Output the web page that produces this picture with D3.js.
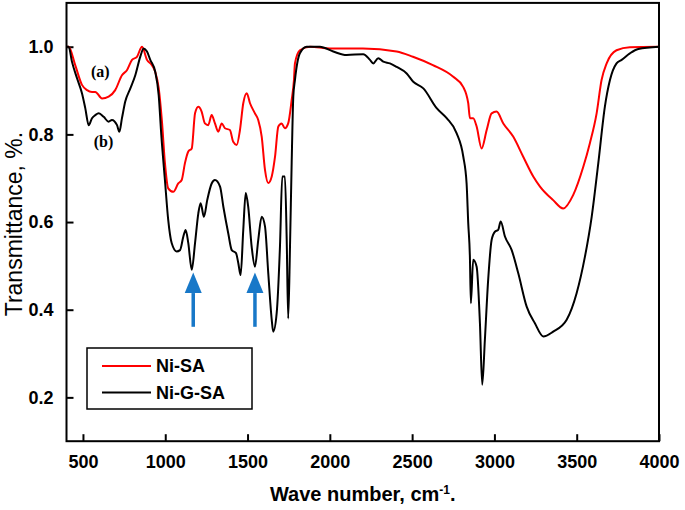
<!DOCTYPE html>
<html>
<head>
<meta charset="utf-8">
<script src="https://cdn.jsdelivr.net/npm/d3@7"></script>
<style>
  body { margin: 0; background: #fff; }
  svg { display: block; }
</style>
</head>
<body>
<div id="chart"></div>
<script>
// FTIR spectra, transmittance vs wave number
const xTicks = [500, 1000, 1500, 2000, 2500, 3000, 3500, 4000];
const yTicks = [0.2, 0.4, 0.6, 0.8, 1.0];
const seriesNames = ['Ni-SA', 'Ni-G-SA'];
const seriesColors = ['#ff0000', '#000000'];

// (a) Ni-SA : [wave number, transmittance]
const niSA = [
  [400, 1.0], [413, 1.0], [453, 0.958], [494, 0.913], [525, 0.901], [555, 0.897],
  [575, 0.897], [616, 0.882], [656, 0.886], [696, 0.901], [737, 0.935], [768, 0.947],
  [798, 0.970], [828, 0.977], [859, 1.0], [889, 0.970], [919, 0.958], [939, 0.943],
  [960, 0.906], [980, 0.829], [998, 0.735], [1018, 0.677], [1049, 0.669], [1079, 0.688],
  [1100, 0.696], [1120, 0.735], [1140, 0.761], [1161, 0.768], [1181, 0.848], [1201, 0.863],
  [1221, 0.852], [1241, 0.825], [1261, 0.821], [1282, 0.844], [1302, 0.825], [1322, 0.806],
  [1343, 0.825], [1363, 0.814], [1393, 0.810], [1413, 0.783], [1434, 0.776], [1454, 0.810],
  [1474, 0.871], [1495, 0.894], [1515, 0.871], [1545, 0.848], [1565, 0.833], [1586, 0.795],
  [1606, 0.719], [1626, 0.689], [1647, 0.704], [1667, 0.749], [1687, 0.818], [1707, 0.825],
  [1727, 0.814], [1747, 0.825], [1768, 0.878], [1782, 0.924], [1788, 0.962], [1818, 0.992],
  [1879, 1.0], [2001, 0.996], [2201, 0.996], [2406, 0.989], [2505, 0.977], [2626, 0.958],
  [2748, 0.932], [2809, 0.909], [2841, 0.871], [2851, 0.837], [2871, 0.837], [2892, 0.818],
  [2922, 0.768], [2953, 0.810], [2983, 0.848], [3013, 0.852], [3054, 0.825], [3114, 0.795],
  [3175, 0.749], [3236, 0.704], [3277, 0.681], [3357, 0.650], [3418, 0.631], [3479, 0.662],
  [3540, 0.726], [3580, 0.780], [3621, 0.848], [3651, 0.924], [3682, 0.962], [3742, 0.992],
  [3823, 0.999], [4000, 1.0]
];

// (b) Ni-G-SA : [wave number, transmittance]
const niGSA = [
  [400, 1.0], [413, 1.0], [433, 0.966], [464, 0.928], [494, 0.894], [514, 0.860],
  [535, 0.821], [555, 0.837], [575, 0.844], [596, 0.848], [626, 0.840], [656, 0.829],
  [676, 0.833], [707, 0.821], [721, 0.806], [737, 0.837], [757, 0.875], [788, 0.905],
  [818, 0.935], [848, 0.977], [869, 0.996], [889, 0.989], [909, 0.970], [939, 0.943],
  [960, 0.890], [976, 0.799], [998, 0.696], [1018, 0.605], [1039, 0.552], [1069, 0.533],
  [1090, 0.536], [1110, 0.567], [1124, 0.582], [1140, 0.552], [1161, 0.491], [1181, 0.552],
  [1201, 0.620], [1215, 0.643], [1235, 0.612], [1255, 0.650], [1282, 0.688], [1302, 0.696],
  [1333, 0.681], [1353, 0.635], [1383, 0.574], [1404, 0.536], [1430, 0.529], [1444, 0.506],
  [1458, 0.479], [1474, 0.582], [1489, 0.666], [1504, 0.635], [1525, 0.544], [1545, 0.498],
  [1565, 0.559], [1586, 0.612], [1606, 0.590], [1626, 0.483], [1647, 0.377], [1656, 0.350],
  [1677, 0.392], [1697, 0.544], [1711, 0.704], [1727, 0.704], [1738, 0.559], [1747, 0.380],
  [1758, 0.544], [1768, 0.733], [1778, 0.886], [1788, 0.924], [1818, 0.985], [1859, 1.0],
  [1940, 1.0], [2021, 0.989], [2102, 0.981], [2203, 0.983], [2244, 0.970], [2264, 0.962],
  [2294, 0.974], [2325, 0.966], [2365, 0.962], [2406, 0.954], [2467, 0.939], [2507, 0.920],
  [2568, 0.905], [2649, 0.860], [2710, 0.837], [2770, 0.803], [2811, 0.749], [2831, 0.688],
  [2841, 0.597], [2851, 0.521], [2857, 0.415], [2871, 0.514], [2892, 0.498], [2912, 0.369],
  [2926, 0.229], [2942, 0.331], [2962, 0.468], [2983, 0.559], [3003, 0.578], [3023, 0.582],
  [3038, 0.601], [3064, 0.567], [3105, 0.536], [3145, 0.483], [3196, 0.407], [3246, 0.369],
  [3297, 0.339], [3357, 0.350], [3439, 0.377], [3499, 0.437], [3550, 0.521], [3591, 0.612],
  [3631, 0.734], [3671, 0.863], [3702, 0.924], [3742, 0.962], [3773, 0.970], [3823, 0.985],
  [3874, 0.995], [4000, 1.0]
];

// blue arrows marking the new bands: wave number, tip, head base, tail
const arrowWaves = [1170, 1545];
const arrowTip = 0.485, arrowHeadBase = 0.438, arrowTail = 0.361;

const width = 685, height = 510;
const plot = { left: 66.5, right: 659, top: 2.9, bottom: 441.2 };

const x = d3.scaleLinear().domain([400, 4000]).range([plot.left, plot.right]);
const y = d3.scaleLinear().domain([0.1, 1.1]).range([plot.bottom, plot.top]);

const svg = d3.select('#chart').append('svg')
  .attr('width', width)
  .attr('height', height)
  .attr('font-family', 'Arial, "Liberation Sans", sans-serif');

svg.append('defs').append('clipPath').attr('id', 'plot-clip')
  .append('rect')
  .attr('x', plot.left).attr('y', plot.top)
  .attr('width', plot.right - plot.left).attr('height', plot.bottom - plot.top);

// Axes, ticks pointing inward
const xAxis = d3.axisBottom(x).tickValues(xTicks).tickSizeInner(-7).tickSizeOuter(0).tickPadding(14)
  .tickFormat(d3.format('d'));
const yAxis = d3.axisLeft(y).tickValues(yTicks).tickSizeInner(-7).tickSizeOuter(0).tickPadding(13)
  .tickFormat(d3.format('.1f'));

const gx = svg.append('g').attr('transform', `translate(0,${plot.bottom})`).call(xAxis);
const gy = svg.append('g').attr('transform', `translate(${plot.left},0)`).call(yAxis);

[gx, gy].forEach(g => {
  g.select('.domain').remove();
  g.selectAll('.tick line').attr('stroke', '#000').attr('stroke-width', 2);
  g.selectAll('.tick text')
    .attr('fill', '#000')
    .attr('font-size', '18px')
    .attr('font-weight', 'bold');
});

// Curves
const line = d3.line().x(d => x(d[0])).y(d => y(d[1])).curve(d3.curveMonotoneX);
const curves = svg.append('g').attr('clip-path', 'url(#plot-clip)');
[niSA, niGSA].forEach((s, i) => {
  curves.append('path')
    .datum(s)
    .attr('d', line)
    .attr('fill', 'none')
    .attr('stroke', seriesColors[i])
    .attr('stroke-width', 2)
    .attr('stroke-linejoin', 'round');
});

// Frame
svg.append('rect')
  .attr('x', plot.left).attr('y', plot.top)
  .attr('width', plot.right - plot.left).attr('height', plot.bottom - plot.top)
  .attr('fill', 'none').attr('stroke', '#000').attr('stroke-width', 2);

// Arrows
const arrowColor = '#1878c8';
arrowWaves.forEach(w => {
  const ax = x(w);
  svg.append('line')
    .attr('x1', ax).attr('x2', ax)
    .attr('y1', y(arrowTail)).attr('y2', y(arrowHeadBase))
    .attr('stroke', arrowColor).attr('stroke-width', 3.5);
  svg.append('path')
    .attr('d', `M${ax},${y(arrowTip)} L${ax + 8.5},${y(arrowHeadBase)} L${ax - 8.5},${y(arrowHeadBase)} Z`)
    .attr('fill', arrowColor);
});

// (a) / (b) curve labels
svg.append('text').attr('x', x(605)).attr('y', y(0.93)).attr('text-anchor', 'middle')
  .attr('font-family', '"Liberation Serif", "Times New Roman", serif')
  .attr('font-weight', 'bold').attr('font-size', '16px').text('(a)');
svg.append('text').attr('x', x(625)).attr('y', y(0.772)).attr('text-anchor', 'middle')
  .attr('font-family', '"Liberation Serif", "Times New Roman", serif')
  .attr('font-weight', 'bold').attr('font-size', '16px').text('(b)');

// Legend
const legend = svg.append('g').attr('transform', 'translate(87,348)');
legend.append('rect')
  .attr('width', 165).attr('height', 61)
  .attr('fill', '#fff').attr('stroke', '#000').attr('stroke-width', 1.5);
seriesNames.forEach((name, i) => {
  const ly = 18 + i * 26.5;
  legend.append('line')
    .attr('x1', 15).attr('x2', 64).attr('y1', ly).attr('y2', ly)
    .attr('stroke', seriesColors[i]).attr('stroke-width', 2);
  legend.append('text')
    .attr('x', 69).attr('y', ly + 6)
    .attr('font-size', '18px').attr('font-weight', 'bold')
    .text(name);
});

// Axis titles
const xTitle = svg.append('text')
  .attr('x', (plot.left + plot.right) / 2).attr('y', 501)
  .attr('text-anchor', 'middle')
  .attr('font-size', '20px').attr('font-weight', 'bold');
xTitle.append('tspan').text('Wave number, cm');
xTitle.append('tspan').attr('dy', -7).attr('font-size', '12px').text('-1');
xTitle.append('tspan').attr('dy', 7).text('.');

svg.append('text')
  .attr('transform', `translate(22,${(plot.top + plot.bottom) / 2 + 2}) rotate(-90)`)
  .attr('text-anchor', 'middle')
  .attr('font-size', '23px')
  .text('Transmittance, %.');
</script>
</body>
</html>
